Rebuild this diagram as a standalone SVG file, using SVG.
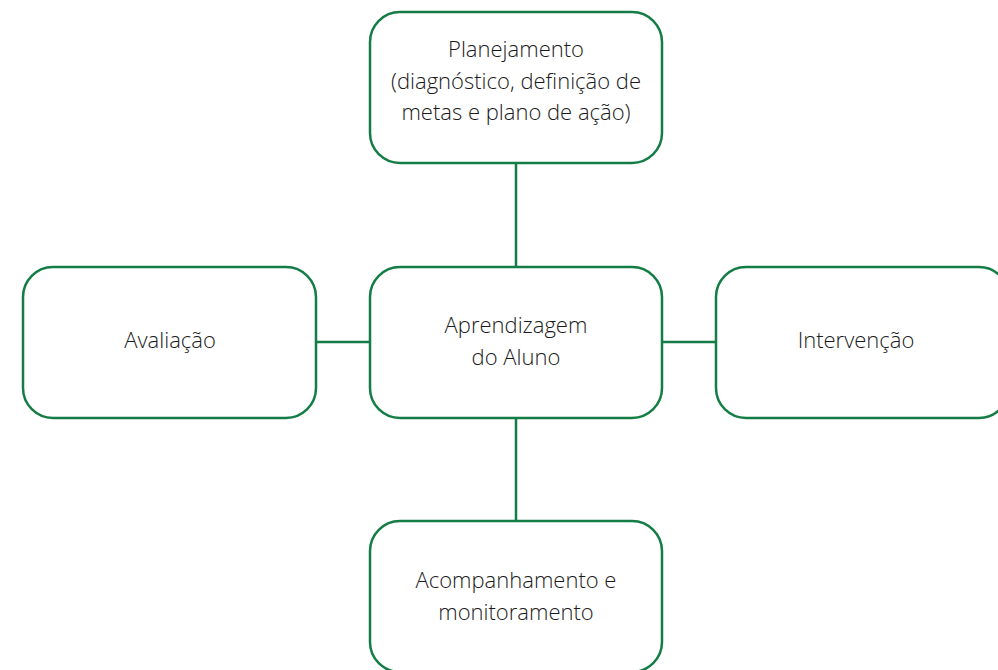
<svg xmlns="http://www.w3.org/2000/svg" width="998" height="670" viewBox="0 0 998 670">
<style>
.box{fill:#fff;stroke:#137d45;stroke-width:2.5}
.edge{stroke:#137d45;stroke-width:2.5;fill:none}
.t{font-family:"Open Sans","Liberation Sans",sans-serif;font-size:22px;font-weight:300;fill:#1a1a1a;text-anchor:middle}
</style>
<rect width="998" height="670" fill="#fff"/>
<g id="connectors">
<line class="edge" x1="516" y1="163" x2="516" y2="267"/>
<line class="edge" x1="516" y1="418" x2="516" y2="521"/>
<line class="edge" x1="316" y1="342" x2="370" y2="342"/>
<line class="edge" x1="662" y1="342" x2="716" y2="342"/>
</g>
<g id="planejamento">
<rect class="box" x="370" y="12" width="292" height="151" rx="30"/>
<text class="t" x="516" y="57">Planejamento</text>
<text class="t" x="516" y="89">(diagnóstico, definição de</text>
<text class="t" x="516" y="120">metas e plano de ação)</text>
</g>
<g id="aprendizagem">
<rect class="box" x="370" y="267" width="292" height="151" rx="30"/>
<text class="t" x="516" y="333">Aprendizagem</text>
<text class="t" x="516" y="365">do Aluno</text>
</g>
<g id="avaliacao">
<rect class="box" x="23" y="267" width="293" height="151" rx="30"/>
<text class="t" x="170" y="348">Avaliação</text>
</g>
<g id="intervencao">
<rect class="box" x="716" y="267" width="293" height="151" rx="30"/>
<text class="t" x="856" y="348">Intervenção</text>
</g>
<g id="acompanhamento">
<rect class="box" x="370" y="521" width="292" height="151" rx="30"/>
<text class="t" x="516" y="588">Acompanhamento e</text>
<text class="t" x="516" y="620">monitoramento</text>
</g>
</svg>
